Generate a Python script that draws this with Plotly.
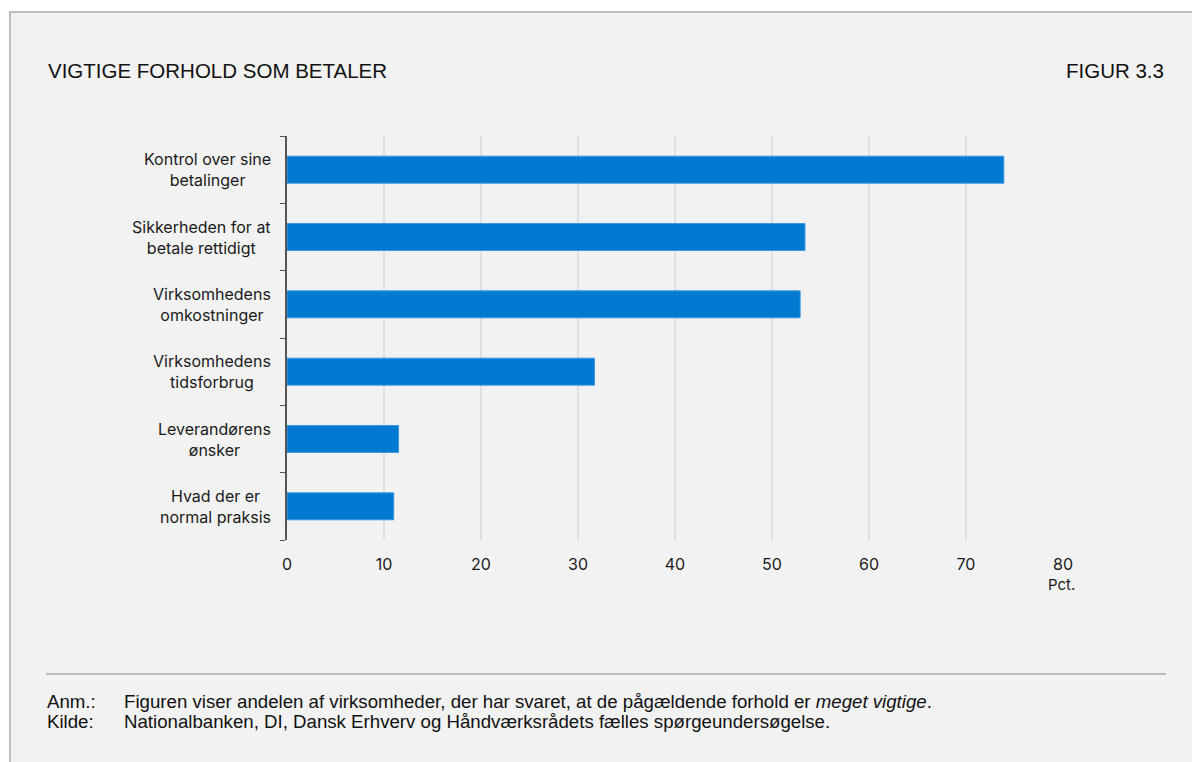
import plotly.graph_objects as go

# Survey results: share of firms rating each factor as "very important"
categories = [
    "Kontrol over sine<br>betalinger",
    "Sikkerheden for at<br>betale rettidigt",
    "Virksomhedens<br>omkostninger",
    "Virksomhedens<br>tidsforbrug",
    "Leverandørens<br>ønsker",
    "Hvad der er<br>normal praksis",
]
values = [73.9, 53.4, 52.9, 31.7, 11.5, 11.0]
x_ticks = [0, 10, 20, 30, 40, 50, 60, 70, 80]

title_left = "VIGTIGE FORHOLD SOM BETALER"
title_right = "FIGUR 3.3"
unit_label = "Pct."
note_label = "Anm.:"
note_text = ("Figuren viser andelen af virksomheder, der har svaret, at de "
             "pågældende forhold er <i>meget vigtige</i>.")
source_label = "Kilde:"
source_text = "Nationalbanken, DI, Dansk Erhverv og Håndværksrådets fælles spørgeundersøgelse."

# Page geometry (pixels)
W, H = 1192, 762
PL, PR, PT, PB = 287, 1063, 136, 540  # plot area edges
BG = "#f2f2f2"
BLUE = "#0079d1"
LABEL_FONT = "Inter, Lato, sans-serif"
TEXT_FONT = "Liberation Sans, Arial, sans-serif"
INK = "#1a1a1a"


def px(x):
    return (x - PL) / (PR - PL)


def py(y):
    return (PB - y) / (PB - PT)


fig = go.Figure()
fig.add_trace(go.Bar(
    x=values,
    y=list(range(len(categories))),
    orientation="h",
    marker=dict(color=BLUE, line=dict(color="#3a97e2", width=1)),
    hoverinfo="skip",
))

annotations = []
# Category labels: centred lines, right-aligned block next to the axis
for i, c in enumerate(categories):
    annotations.append(dict(
        text=c, x=px(273), xref="paper", y=i, yref="y",
        xanchor="right", yanchor="middle", align="center", showarrow=False,
        font=dict(family=LABEL_FONT, size=16, color=INK),
    ))


def text_note(text, x, y, size, anchor="left"):
    return dict(text=text, x=px(x), y=py(y), xref="paper", yref="paper",
                xanchor=anchor, yanchor="middle", showarrow=False,
                font=dict(family=TEXT_FONT, size=size, color="#111111"))


annotations += [
    dict(text=unit_label, x=px(1061), y=py(584), xref="paper", yref="paper",
         xanchor="center", yanchor="middle", showarrow=False,
         font=dict(family=LABEL_FONT, size=15, color=INK)),
    text_note(title_left, 46, 70, 20.5),
    text_note(title_right, 1166, 70, 20.5, anchor="right"),
    text_note(note_label, 45, 701, 18.67),
    text_note(note_text, 122, 701, 18.67),
    text_note(source_label, 45, 721, 18.67),
    text_note(source_text, 122, 721, 18.67),
]

shapes = [
    # Grey panel with a thin border
    dict(type="rect", xref="paper", yref="paper", layer="below",
         x0=px(10), x1=px(W + 20), y0=py(H + 20), y1=py(12),
         fillcolor=BG, line=dict(color="#bdbdbd", width=2)),
    # Separator above the footnotes
    dict(type="line", xref="paper", yref="paper",
         x0=px(46), x1=px(1166), y0=py(674), y1=py(674),
         line=dict(color="#aaaaaa", width=1.5)),
]

fig.update_layout(
    width=W, height=H,
    margin=dict(l=PL, r=W - PR, t=PT, b=H - PB, pad=0),
    paper_bgcolor="white",
    plot_bgcolor="rgba(0,0,0,0)",
    showlegend=False,
    bargap=0.6,
    annotations=annotations,
    shapes=shapes,
    xaxis=dict(
        range=[0, 80], tickvals=x_ticks, ticks="", showline=False,
        showgrid=True, gridcolor="#dfdfdf", gridwidth=1.5, zeroline=False,
        tickfont=dict(family=LABEL_FONT, size=16, color=INK),
        ticklabelstandoff=13,
    ),
    yaxis=dict(
        range=[len(categories) - 0.5, -0.5],
        tickvals=[i + 0.5 for i in range(-1, len(categories))],
        showticklabels=False, ticks="outside", ticklen=5, tickwidth=1.2,
        tickcolor="#555555", showline=True, linecolor="#555555",
        linewidth=1.5, showgrid=False, zeroline=False,
    ),
)

fig.write_html("out.html")
